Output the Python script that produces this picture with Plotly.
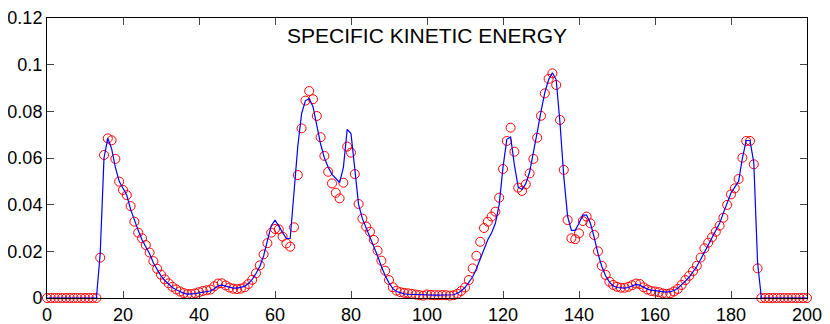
import plotly.graph_objects as go

# red circles: one value per grid point, x = 0..200
circle_ke = [
    0, 0, 0, 0, 0, 0, 0, 0, 0, 0,
    0, 0, 0, 0, 0.0173, 0.0613, 0.0684, 0.0676, 0.0596, 0.0499,
    0.0463, 0.0441, 0.0394, 0.0327, 0.0280, 0.0256, 0.0227, 0.0195, 0.0158, 0.0125,
    0.0100, 0.0080, 0.0063, 0.0048, 0.0037, 0.0028, 0.0021, 0.0017, 0.0017, 0.0020,
    0.0025, 0.0030, 0.0033, 0.0036, 0.0050, 0.0062, 0.0063, 0.0054, 0.0045, 0.0040,
    0.0038, 0.0040, 0.0046, 0.0060, 0.0078, 0.0106, 0.0140, 0.0187, 0.0235, 0.0280,
    0.0296, 0.0294, 0.0263, 0.0234, 0.0220, 0.0303, 0.0527, 0.0727, 0.0846, 0.0887,
    0.0852, 0.0780, 0.0689, 0.0609, 0.0541, 0.0491, 0.0451, 0.0427, 0.0494, 0.0649,
    0.0623, 0.0531, 0.0403, 0.0340, 0.0306, 0.0284, 0.0249, 0.0203, 0.0160, 0.0117,
    0.0077, 0.0046, 0.0031, 0.0025, 0.0022, 0.0020, 0.0018, 0.0015, 0.0012, 0.0010,
    0.0015, 0.0013, 0.0012, 0.0012, 0.0013, 0.0012, 0.0010, 0.0012, 0.0018, 0.0030,
    0.0045, 0.0077, 0.0127, 0.0181, 0.0241, 0.0300, 0.0327, 0.0349, 0.0370, 0.0430,
    0.0553, 0.0673, 0.0730, 0.0627, 0.0473, 0.0459, 0.0487, 0.0534, 0.0596, 0.0687,
    0.0781, 0.0877, 0.0939, 0.0963, 0.0913, 0.0763, 0.0549, 0.0334, 0.0256, 0.0252,
    0.0277, 0.0330, 0.0349, 0.0320, 0.0270, 0.0200, 0.0138, 0.0099, 0.0070, 0.0056,
    0.0048, 0.0044, 0.0044, 0.0048, 0.0055, 0.0062, 0.0060, 0.0046, 0.0036, 0.0030,
    0.0028, 0.0025, 0.0020, 0.0018, 0.0020, 0.0028, 0.0039, 0.0056, 0.0077, 0.0095,
    0.0115, 0.0138, 0.0173, 0.0213, 0.0237, 0.0260, 0.0284, 0.0310, 0.0344, 0.0399,
    0.0444, 0.0470, 0.0510, 0.0601, 0.0673, 0.0673, 0.0573, 0.0127, 0, 0,
    0, 0, 0, 0, 0, 0, 0, 0, 0, 0,
    0,
]

# blue reference line, same grid
line_ke = [
    0, 0, 0, 0, 0, 0, 0, 0, 0, 0,
    0, 0, 0, 0, 0.019, 0.060, 0.0685, 0.064, 0.056, 0.050,
    0.047, 0.044, 0.038, 0.033, 0.029, 0.025, 0.022, 0.019, 0.015, 0.012,
    0.0095, 0.0075, 0.006, 0.0045, 0.0035, 0.0027, 0.002, 0.0017, 0.0017, 0.0019,
    0.0022, 0.0025, 0.0027, 0.003, 0.004, 0.0052, 0.0055, 0.005, 0.0045, 0.0042,
    0.0042, 0.0045, 0.005, 0.0062, 0.008, 0.0105, 0.0135, 0.018, 0.024, 0.031,
    0.0333, 0.031, 0.028, 0.0255, 0.0255, 0.044, 0.065, 0.079, 0.0845, 0.0855,
    0.082, 0.074, 0.066, 0.060, 0.056, 0.053, 0.051, 0.0495, 0.056, 0.0723,
    0.0705, 0.055, 0.040, 0.034, 0.030, 0.0265, 0.022, 0.018, 0.0135, 0.0095,
    0.0065, 0.004, 0.0028, 0.0022, 0.0018, 0.0016, 0.0015, 0.0014, 0.0013, 0.0012,
    0.0014, 0.0012, 0.0012, 0.0012, 0.0012, 0.0012, 0.0012, 0.0014, 0.002, 0.003,
    0.0045, 0.0065, 0.009, 0.0125, 0.0165, 0.021, 0.025, 0.028, 0.032, 0.040,
    0.056, 0.068, 0.069, 0.057, 0.0475, 0.0465, 0.049, 0.054, 0.062, 0.071,
    0.080, 0.088, 0.0935, 0.0965, 0.0935, 0.075, 0.052, 0.035, 0.029, 0.029,
    0.032, 0.0355, 0.0355, 0.032, 0.026, 0.019, 0.0135, 0.0095, 0.0068, 0.0052,
    0.0045, 0.0042, 0.0042, 0.0045, 0.0052, 0.0058, 0.0055, 0.0045, 0.0038, 0.0034,
    0.0031, 0.0028, 0.0026, 0.0025, 0.0027, 0.0032, 0.0042, 0.0055, 0.0072, 0.009,
    0.011, 0.0135, 0.0165, 0.0195, 0.0225, 0.0255, 0.0285, 0.032, 0.0365, 0.041,
    0.045, 0.0475, 0.050, 0.060, 0.0675, 0.0675, 0.058, 0.015, 0, 0,
    0, 0, 0, 0, 0, 0, 0, 0, 0, 0,
    0,
]

x_grid = list(range(len(circle_ke)))
x_ticks = [0, 20, 40, 60, 80, 100, 120, 140, 160, 180, 200]
y_ticks = [0, 0.02, 0.04, 0.06, 0.08, 0.1, 0.12]
y_labels = ["0", "0.02", "0.04", "0.06", "0.08", "0.1", "0.12"]

fig = go.Figure()

fig.add_trace(go.Scatter(
    x=x_grid, y=circle_ke, mode="markers", cliponaxis=False,
    marker={"symbol": "circle-open", "size": 9, "color": "#ff0000", "line": {"width": 1}},
))
fig.add_trace(go.Scatter(
    x=x_grid, y=line_ke, mode="lines", cliponaxis=False,
    line={"color": "#0000ff", "width": 1.2},
))

# the page body keeps its default 8px margin, so the figure is 8px smaller
fig.update_layout(
    width=822, height=316,
    margin={"l": 39, "r": 23, "t": 10, "b": 26},
    showlegend=False,
    plot_bgcolor="white",
    paper_bgcolor="white",
    font={"family": "Arial, Liberation Sans, sans-serif", "size": 18, "color": "black"},
    title={
        "text": "SPECIFIC KINETIC ENERGY",
        "xref": "paper", "yref": "paper", "x": 0.5, "y": 0.936,
        "xanchor": "center", "yanchor": "middle",
        "font": {"size": 21, "color": "black"},
    },
)
fig.update_xaxes(
    range=[0, 200], tickvals=x_ticks, ticks="inside", ticklen=7,
    showline=True, linecolor="black", linewidth=1, mirror="ticks",
    showgrid=False, zeroline=False, automargin=False,
)
fig.update_yaxes(
    range=[0, 0.12], tickvals=y_ticks, ticktext=y_labels, ticks="inside", ticklen=7,
    showline=True, linecolor="black", linewidth=1, mirror="ticks",
    showgrid=False, zeroline=False, automargin=False,
)

fig.write_html("out.html")
